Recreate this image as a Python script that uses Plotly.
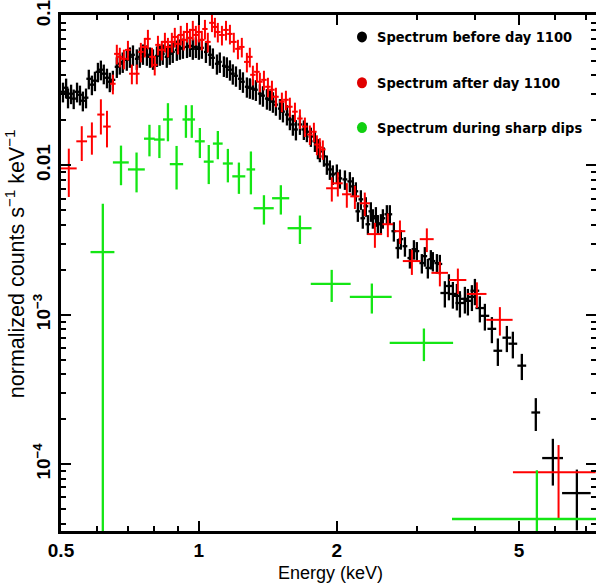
import plotly.graph_objects as go

# ---- Spectrum before day 1100 (black) ----
black_E = [
    0.505, 0.513, 0.518, 0.526, 0.533, 0.542, 0.550, 0.558, 0.567, 0.575, 0.584, 0.593, 0.602, 0.611, 0.620, 0.630, 0.639, 0.649,
    0.662, 0.672, 0.682, 0.696, 0.707, 0.718, 0.732, 0.743, 0.755, 0.770, 0.782, 0.794, 0.810, 0.822, 0.834, 0.851, 0.864, 0.877,
    0.895, 0.909, 0.923, 0.942, 0.956, 0.970, 0.985, 1.000, 1.015, 1.036, 1.057, 1.073, 1.095, 1.111, 1.134, 1.151, 1.169, 1.186,
    1.205, 1.229, 1.248, 1.273, 1.292, 1.312, 1.332, 1.359, 1.380, 1.408, 1.429, 1.451, 1.473, 1.503, 1.526, 1.557, 1.580, 1.604, 1.629,
    1.662, 1.695, 1.721, 1.756, 1.792, 1.819, 1.837, 1.875, 1.903, 1.932, 1.961, 2.001, 2.032, 2.084, 2.136, 2.169, 2.202, 2.224,
    2.258, 2.280, 2.315, 2.339, 2.374, 2.398, 2.435, 2.459, 2.497, 2.522, 2.573, 2.612, 2.665, 2.720, 2.761, 2.818, 2.889, 2.948,
    2.992, 3.068, 3.114, 3.162, 3.210, 3.243, 3.309, 3.359,
    3.444, 3.515, 3.586, 3.659, 3.715, 3.809, 3.867, 3.946, 4.006, 4.107, 4.212, 4.363, 4.496, 4.704, 4.848, 5.072,
    5.441, 5.928, 6.689,
]
black_dE = [
    0.006, 0.006, 0.006, 0.006, 0.006, 0.007, 0.007, 0.007, 0.007, 0.007, 0.007, 0.007, 0.007, 0.007, 0.007, 0.008, 0.008, 0.008,
    0.007, 0.007, 0.007, 0.007, 0.007, 0.007, 0.007, 0.007, 0.008, 0.008, 0.008, 0.008, 0.008, 0.008, 0.008, 0.009, 0.009, 0.009,
    0.009, 0.009, 0.009, 0.009, 0.010, 0.010, 0.010, 0.010, 0.010, 0.010, 0.011, 0.011, 0.011, 0.011, 0.011, 0.012, 0.012, 0.012,
    0.012, 0.012, 0.012, 0.013, 0.013, 0.013, 0.013, 0.014, 0.014, 0.014, 0.014, 0.015, 0.015, 0.015, 0.015, 0.016, 0.016, 0.016, 0.016,
    0.020, 0.020, 0.021, 0.021, 0.022, 0.022, 0.022, 0.023, 0.023, 0.023, 0.024, 0.024, 0.024, 0.025, 0.026, 0.026, 0.026, 0.027,
    0.027, 0.027, 0.028, 0.028, 0.028, 0.029, 0.029, 0.030, 0.030, 0.030, 0.031, 0.031, 0.032, 0.033, 0.033, 0.034, 0.035, 0.035,
    0.036, 0.037, 0.037, 0.038, 0.039, 0.039, 0.040, 0.040,
    0.076, 0.077, 0.079, 0.080, 0.082, 0.084, 0.085, 0.087, 0.088, 0.090, 0.093, 0.096, 0.099, 0.103, 0.107, 0.112,
    0.12, 0.31, 0.48,
]
black_F = [
    0.0311, 0.0331, 0.0284, 0.0302, 0.0280, 0.0311, 0.0297, 0.0271, 0.0284, 0.0380, 0.0347, 0.0369, 0.0423, 0.0437, 0.0411, 0.0386, 0.0363, 0.0374,
    0.0457, 0.0479, 0.0493, 0.0509, 0.0533, 0.0550, 0.0517, 0.0533, 0.0558, 0.0550, 0.0533, 0.0517, 0.0541, 0.0550, 0.0558, 0.0533, 0.0558, 0.0575,
    0.0593, 0.0603, 0.0612, 0.0621, 0.0631, 0.0603, 0.0621, 0.0603, 0.0612, 0.0575, 0.0550, 0.0525, 0.0479, 0.0493, 0.0464, 0.0457, 0.0437, 0.0411,
    0.0398, 0.0380, 0.0363, 0.0336, 0.0331, 0.0326, 0.0321, 0.0302, 0.0293, 0.0280, 0.0275, 0.0267, 0.0255, 0.0240, 0.0229, 0.0219, 0.0203, 0.0188, 0.0174,
    0.0188, 0.0174, 0.0168, 0.0156, 0.0145, 0.0130, 0.0124, 0.0115, 0.01015, 0.0094, 0.00871, 0.00885, 0.00819, 0.00806, 0.00782, 0.00724, 0.00671, 0.00493,
    0.00593, 0.00443, 0.00533, 0.00404, 0.00493, 0.00443, 0.00457, 0.00404, 0.00410, 0.00443, 0.00471, 0.00471, 0.00363, 0.00280, 0.00321, 0.00288, 0.00240, 0.00275,
    0.00267, 0.00222, 0.00247, 0.00206, 0.00236, 0.00229, 0.00222, 0.00219,
    0.00140, 0.00156, 0.00138, 0.00134, 0.00120, 0.00128, 0.00124, 0.00132, 0.00145, 0.00111, 0.000985, 0.000806, 0.000575, 0.000703, 0.000641, 0.000457,
    0.000222, 0.000110, 0.0000641,
]
black_dF = [
    0.0047, 0.0050, 0.0043, 0.0045, 0.0042, 0.0047, 0.0045, 0.0041, 0.0043, 0.0057, 0.0052, 0.0055, 0.0063, 0.0066, 0.0062, 0.0058, 0.0054, 0.0056,
    0.0072, 0.0074, 0.0077, 0.0079, 0.0083, 0.0086, 0.0081, 0.0083, 0.0087, 0.0086, 0.0083, 0.0081, 0.0085, 0.0086, 0.0087, 0.0083, 0.0087, 0.0090,
    0.0092, 0.0094, 0.0095, 0.0098, 0.0099, 0.0094, 0.0098, 0.0094, 0.0095, 0.0090, 0.0086, 0.0082, 0.0074, 0.0077, 0.0073, 0.0072, 0.0068, 0.0064,
    0.0062, 0.0060, 0.0057, 0.0052, 0.0052, 0.0051, 0.0051, 0.0047, 0.0046, 0.0044, 0.0043, 0.0042, 0.0040, 0.0038, 0.0035, 0.0034, 0.0031, 0.0030, 0.0027,
    0.0028, 0.0026, 0.0025, 0.0023, 0.0022, 0.0020, 0.0019, 0.0017, 0.0015, 0.0014, 0.0013, 0.0013, 0.0012, 0.0012, 0.0012, 0.0011, 0.0010, 0.00074,
    0.00089, 0.00066, 0.00080, 0.00061, 0.00074, 0.00066, 0.00069, 0.00061, 0.00062, 0.00066, 0.00071, 0.00071, 0.00054, 0.00042, 0.00048, 0.00043, 0.00036, 0.00041,
    0.00040, 0.00033, 0.00037, 0.00031, 0.00035, 0.00034, 0.00033, 0.00033,
    0.00028, 0.00031, 0.00028, 0.00027, 0.00024, 0.00026, 0.00025, 0.00026, 0.00029, 0.00022, 0.00020, 0.00016, 0.00012, 0.00014, 0.00013, 0.000091,
    0.000055, 0.000038, 0.000028,
]

# ---- Spectrum after day 1100 (red) ----
red_E = [
    0.520, 0.555, 0.584, 0.611, 0.630, 0.649,
    0.662, 0.672, 0.686, 0.700, 0.714, 0.732, 0.747, 0.762, 0.774, 0.790, 0.801, 0.814, 0.830, 0.843, 0.856, 0.873, 0.886, 0.900,
    0.913, 0.927, 0.942, 0.956, 0.970, 0.985, 1.000, 1.015, 1.031, 1.046, 1.068, 1.084, 1.100, 1.123, 1.146, 1.169, 1.192, 1.217,
    1.241, 1.273, 1.292, 1.312, 1.339, 1.359, 1.387, 1.415, 1.444, 1.473, 1.518, 1.549, 1.580, 1.621, 1.662, 1.704, 1.747, 1.783,
    1.810, 1.837, 1.865,
    1.951, 2.011, 2.104, 2.191, 2.303, 2.423, 2.586, 2.748, 2.918, 3.146, 3.359, 3.677, 4.046, 4.542,
    6.10,
]
red_dE = [
    0.021, 0.015, 0.014, 0.011, 0.012, 0.009,
    0.009, 0.009, 0.010, 0.010, 0.010, 0.010, 0.010, 0.011, 0.011, 0.011, 0.011, 0.011, 0.012, 0.012, 0.012, 0.012, 0.012, 0.013,
    0.013, 0.013, 0.013, 0.013, 0.014, 0.014, 0.014, 0.014, 0.014, 0.015, 0.015, 0.015, 0.015, 0.016, 0.016, 0.016, 0.017, 0.017,
    0.017, 0.018, 0.018, 0.018, 0.019, 0.019, 0.019, 0.020, 0.020, 0.021, 0.021, 0.022, 0.022, 0.023, 0.023, 0.024, 0.024, 0.025,
    0.025, 0.026, 0.026,
    0.055, 0.050, 0.050, 0.050, 0.060, 0.090, 0.070, 0.075, 0.130, 0.110, 0.140, 0.160, 0.200, 0.300,
    1.25,
]
red_F = [
    0.00955, 0.0145, 0.0156, 0.0219, 0.0182, 0.0352,
    0.0558, 0.0533, 0.0517, 0.0593, 0.0411, 0.0411, 0.0575, 0.0621, 0.0703, 0.0533, 0.0471, 0.0641, 0.0593, 0.0671, 0.0621, 0.0671, 0.0724, 0.0651,
    0.0747, 0.0692, 0.0782, 0.0713, 0.0807, 0.0747, 0.0782, 0.0692, 0.0819, 0.0671, 0.0900, 0.0845, 0.0782, 0.0747, 0.0807, 0.0759, 0.0671, 0.0603,
    0.0621, 0.0493, 0.0533, 0.0404, 0.0423, 0.0363, 0.0374, 0.0336, 0.0321, 0.0288, 0.0267, 0.0275, 0.0247, 0.0229, 0.0206, 0.0182, 0.0161, 0.0168,
    0.0138, 0.0132, 0.0128,
    0.00703, 0.00759, 0.00641, 0.00621, 0.00558, 0.00347, 0.00404, 0.00363, 0.00229, 0.00321, 0.00191, 0.00171, 0.00138, 0.000926,
    0.0000884,
]
red_dF = [
    0.0034, 0.0038, 0.0038, 0.0058, 0.0050, 0.0053,
    0.0084, 0.0080, 0.0078, 0.0089, 0.0062, 0.0062, 0.0086, 0.0093, 0.0105, 0.0080, 0.0071, 0.0096, 0.0089, 0.0101, 0.0093, 0.0101, 0.0109, 0.0098,
    0.0112, 0.0104, 0.0117, 0.0107, 0.0121, 0.0112, 0.0117, 0.0104, 0.0123, 0.0101, 0.0120, 0.0127, 0.0117, 0.0112, 0.0121, 0.0114, 0.0101, 0.0090,
    0.0093, 0.0074, 0.0080, 0.0061, 0.0063, 0.0054, 0.0056, 0.0050, 0.0048, 0.0043, 0.0040, 0.0041, 0.0037, 0.0034, 0.0031, 0.0027, 0.0024, 0.0025,
    0.0021, 0.0020, 0.0019,
    0.0013, 0.0014, 0.0012, 0.0011, 0.0010, 0.00066, 0.00073, 0.00065, 0.00044, 0.00058, 0.00036, 0.00033, 0.00027, 0.00020,
    0.000046,
]

# ---- Spectrum during sharp dips (green) ----
green_E = [0.617, 0.676, 0.731, 0.780, 0.820, 0.856, 0.894, 0.937, 0.965, 1.005, 1.051,
           1.100, 1.157, 1.223, 1.299, 1.387, 1.510, 1.662, 1.950, 2.386, 3.100, 5.470]
green_dE = [0.037, 0.027, 0.031, 0.021, 0.022, 0.021, 0.030, 0.016, 0.016, 0.025, 0.026,
            0.027, 0.029, 0.040, 0.028, 0.070, 0.065, 0.100, 0.195, 0.250, 0.490, 1.900]
green_F = [0.00263, 0.01047, 0.0094, 0.0151, 0.0149, 0.0203, 0.0102, 0.0203, 0.0203, 0.0145, 0.0106,
           0.0140, 0.0103, 0.00845, 0.0094, 0.00517, 0.00603, 0.0038, 0.00161, 0.00132, 0.00065, 0.000043]
green_dF = [0.0029, 0.0031, 0.0028, 0.0036, 0.0037, 0.0058, 0.0033, 0.0050, 0.0050, 0.0033, 0.0031,
            0.0030, 0.0026, 0.0020, 0.0030, 0.00115, 0.00134, 0.00082, 0.00039, 0.00030, 0.00016, 0.000048]

# axis ticks
x_ticks = [0.5, 1, 2, 5]
x_ticktext = ["0.5", "1", "2", "5"]
x_minor = [0.6, 0.7, 0.8, 0.9, 3, 4, 6, 7]
y_ticks = [1e-4, 1e-3, 1e-2, 1e-1]
y_ticktext = ["10<sup>\u22124</sup>", "10<sup>\u22123</sup>", "0.01", "0.1"]
y_minor = [m * d for d in (1e-5, 1e-4, 1e-3, 1e-2) for m in range(2, 10)]

legend_labels = ["Spectrum before day 1100", "Spectrum after day 1100", "Spectrum during sharp dips"]

BLACK = "#000000"
RED = "#ff0000"
GREEN = "#14e614"

X_RANGE = [-0.30103, 0.8671]
Y_RANGE = [-4.4467, -0.9933]


def spectrum(E, dE, F, dF, color, width):
    return go.Scatter(
        x=E, y=F, mode="markers",
        marker=dict(size=0, opacity=0, color=color),
        error_x=dict(type="data", array=dE, symmetric=True, color=color, thickness=width, width=0),
        error_y=dict(type="data", array=dF, symmetric=True, color=color, thickness=width, width=0),
        showlegend=False, hoverinfo="skip",
    )


fig = go.Figure()
fig.add_trace(spectrum(black_E, black_dE, black_F, black_dF, BLACK, 2.3))
fig.add_trace(spectrum(red_E, red_dE, red_F, red_dF, RED, 2))
fig.add_trace(spectrum(green_E, green_dE, green_F, green_dF, GREEN, 2.3))
# carrier for the right-hand tick axis
fig.add_trace(go.Scatter(x=[None], y=[None], yaxis="y2", showlegend=False, hoverinfo="skip"))

tick_font_x = dict(family="Liberation Sans Narrow, Liberation Sans, Arial", size=19, color="black", weight="bold")
tick_font_y = dict(family="Liberation Sans, Arial", size=19, color="black", weight="bold")

fig.update_layout(
    width=596, height=586,
    margin=dict(l=61, r=0, t=13, b=55),
    paper_bgcolor="white", plot_bgcolor="white",
    xaxis=dict(
        type="log", range=X_RANGE, showgrid=False, zeroline=False,
        showline=True, linecolor="black", linewidth=3, mirror="ticks",
        tickmode="array", tickvals=x_ticks, ticktext=x_ticktext,
        ticks="inside", ticklen=10, tickwidth=2, tickcolor="black",
        tickfont=tick_font_x,
        minor=dict(tickmode="array", tickvals=x_minor, ticks="inside", ticklen=5, tickwidth=2, tickcolor="black", showgrid=False),
    ),
    yaxis=dict(
        type="log", range=Y_RANGE, showgrid=False, zeroline=False,
        showline=True, linecolor="black", linewidth=3, mirror=False,
        tickmode="array", tickvals=y_ticks, ticktext=y_ticktext, tickangle=-90,
        ticks="inside", ticklen=10, tickwidth=2, tickcolor="black",
        tickfont=tick_font_y, ticklabelstandoff=0, ticklabeloverflow="allow",
        minor=dict(tickmode="array", tickvals=y_minor, ticks="inside", ticklen=5, tickwidth=2, tickcolor="black", showgrid=False),
    ),
    yaxis2=dict(
        type="log", range=Y_RANGE, overlaying="y", side="right", anchor="x",
        showgrid=False, zeroline=False, showline=False, showticklabels=False,
        tickmode="array", tickvals=y_ticks,
        ticks="inside", ticklen=10, tickwidth=2, tickcolor="black",
        minor=dict(tickmode="array", tickvals=y_minor, ticks="inside", ticklen=5, tickwidth=2, tickcolor="black", showgrid=False),
    ),
)

# axis titles
fig.add_annotation(
    text="Energy (keV)", xref="paper", yref="paper", x=0.503, y=-0.081,
    xanchor="center", yanchor="middle", showarrow=False,
    font=dict(family="Liberation Sans, Arial", size=18, color="black"),
)
fig.add_annotation(
    text="normalized counts s<sup>\u22121</sup> keV<sup>\u22121</sup>", xref="paper", yref="paper",
    x=-0.086, y=0.519, xanchor="center", yanchor="middle", textangle=-90, showarrow=False,
    font=dict(family="Liberation Sans, Arial", size=21.5, color="black"),
)

# legend: coloured dots with bold labels
legend_colors = [BLACK, "#e00000", "#10d010"]
legend_y = [0.9575, 0.8687, 0.7819]
for label, col, yy in zip(legend_labels, legend_colors, legend_y):
    fig.add_shape(
        type="circle", xref="paper", yref="paper", xsizemode="pixel", ysizemode="pixel",
        xanchor=0.5626, yanchor=yy, x0=-5, x1=5, y0=-5.5, y1=5.5,
        fillcolor=col, line=dict(width=0),
    )
    fig.add_annotation(
        text=label, xref="paper", yref="paper", x=0.5869, y=yy,
        xanchor="left", yanchor="middle", showarrow=False,
        font=dict(family="DejaVu Sans Condensed, DejaVu Sans", size=14.5, color="black", weight="bold"),
    )

fig.write_html("out.html")
